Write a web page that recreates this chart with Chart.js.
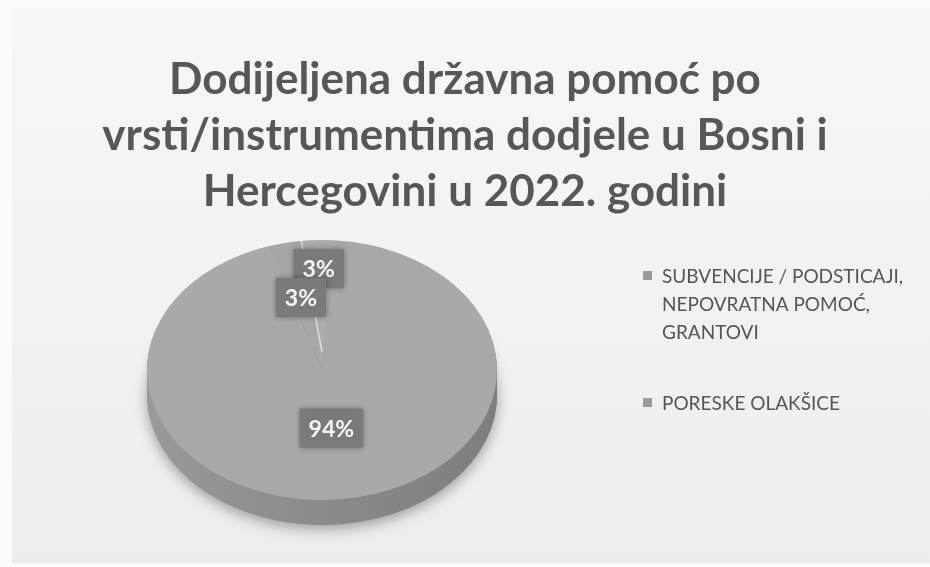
<!DOCTYPE html>
<html>
<head>
<meta charset="utf-8">
<script src="https://cdn.jsdelivr.net/npm/chart.js@4.4.0/dist/chart.umd.min.js"></script>
<style>
  html, body { margin: 0; padding: 0; background: #f3f3f3; }
  #wrap { width: 930px; height: 567px; }
</style>
</head>
<body>
<div id="wrap"><canvas id="pie" width="930" height="567"></canvas></div>
<script>
 // data
 const titleLines = ['Dodijeljena državna pomoć po', 'vrsti/instrumentima dodjele u Bosni i', 'Hercegovini u 2022. godini'];
 const categories = ['SUBVENCIJE / PODSTICAJI, NEPOVRATNA POMOĆ, GRANTOVI', 'PORESKE OLAKŠICE', ''];
 const shares = [94, 3, 3];
 const shareLabels = ['94%', '3%', '3%'];

 // look
 const topColors = ['#a9a9a9', '#a7a7a7', '#adadad'];
 const labelRadius = [0.45, 0.57, 0.78];
 const tilt = 0.743;      // vertical squash of the pie
 const depth = 25;        // thickness of the pie side
 const pieCenter = { x: 322, y: 370 };

 // fit title size to the reference width of the longest line
 const m = document.createElement('canvas').getContext('2d');
 m.font = 'bold 36px Lato';
 const titleSize = Math.round(0.97 * 36 * 746 / m.measureText(titleLines[1]).width);

 function toScreen(chart, x, y) {
   const arc = chart.getDatasetMeta(0).data[0];
   return { x: pieCenter.x + (x - arc.x), y: pieCenter.y + (y - arc.y) * tilt };
 }

 const bgPlugin = {
   id: 'bg',
   beforeDraw(chart) {
     const c = chart.ctx;
     c.save();
     c.fillStyle = '#fbfbfb';
     c.fillRect(0, 0, chart.width, chart.height);
     const g = c.createLinearGradient(0, 0, 0, chart.height);
     g.addColorStop(0, '#f7f7f7');
     g.addColorStop(1, '#ededed');
     c.fillStyle = g;
     c.fillRect(12, 8, chart.width - 12, chart.height - 12);
     c.restore();
   }
 };

 // tilt the pie and give it a side
 const tiltPlugin = {
   id: 'tilt',
   beforeDatasetsDraw(chart) {
     const c = chart.ctx;
     const arcs = chart.getDatasetMeta(0).data;
     const cx = arcs[0].x, cy = arcs[0].y;
     const R = arcs[0].outerRadius;
     c.save();
     c.translate(pieCenter.x, pieCenter.y);
     c.scale(1, tilt);
     c.translate(-cx, -cy);
     const side = c.createLinearGradient(cx - R, 0, cx + R, 0);
     side.addColorStop(0, '#999999');
     side.addColorStop(0.5, '#8a8a8a');
     side.addColorStop(1, '#7e7e7e');
     for (let d = depth; d >= 1; d--) {
       c.save();
       c.translate(0, d / tilt);
       if (d === depth) {
         c.shadowColor = 'rgba(0,0,0,0.35)';
         c.shadowBlur = 14;
         c.shadowOffsetY = 4;
       }
       arcs.forEach(a => {
         c.beginPath();
         c.moveTo(a.x, a.y);
         c.arc(a.x, a.y, a.outerRadius, a.startAngle, a.endAngle);
         c.closePath();
         c.fillStyle = side;
         c.fill();
       });
       c.restore();
     }
   },
   afterDatasetsDraw(chart) {
     const c = chart.ctx;
     c.restore();
     const arcs = chart.getDatasetMeta(0).data;
     // light seam between the two small slices
     const seam = arcs[2];
     const p0 = toScreen(chart, seam.x, seam.y);
     const p1 = toScreen(chart, seam.x + Math.cos(seam.startAngle) * seam.outerRadius, seam.y + Math.sin(seam.startAngle) * seam.outerRadius);
     c.save();
     c.strokeStyle = '#dcdcdc';
     c.lineWidth = 1.5;
     c.beginPath();
     c.moveTo(p0.x, p0.y - 18);
     c.lineTo(p1.x, p1.y);
     c.stroke();
     c.restore();

     c.save();
     c.font = 'bold 23px Lato';
     c.textAlign = 'center';
     c.textBaseline = 'middle';
     // draw outer labels first so the inner ones sit on top
     [0, 2, 1].forEach(i => {
       const a = arcs[i];
       const mid = (a.startAngle + a.endAngle) / 2;
       const r = a.outerRadius * labelRadius[i];
       const p = toScreen(chart, a.x + Math.cos(mid) * r, a.y + Math.sin(mid) * r);
       const w = c.measureText(shareLabels[i]).width + 18;
       const h = 39;
       c.shadowColor = 'rgba(0,0,0,0.35)';
       c.shadowBlur = 6;
       c.fillStyle = '#7a7a7a';
       c.fillRect(p.x - w / 2, p.y - h / 2, w, h);
       c.shadowBlur = 0;
       c.fillStyle = '#f6f6f6';
       c.fillText(shareLabels[i], p.x, p.y + 1);
     });
     c.restore();
   }
 };

 // legend on the right with wrapped text
 const legendPlugin = {
   id: 'sideLegend',
   afterDraw(chart) {
     const c = chart.ctx;
     const tops = [283, 410];
     c.save();
     c.font = '19px Lato';
     c.textBaseline = 'alphabetic';
     categories.forEach((txt, i) => {
       if (!txt) return;
       const words = txt.split(' ');
       const lines = [];
       let line = '';
       words.forEach(wd => {
         const t = line ? line + ' ' + wd : wd;
         if (c.measureText(t).width > 258 && line) { lines.push(line); line = wd; }
         else line = t;
       });
       lines.push(line);
       c.fillStyle = '#9a9a9a';
       c.fillRect(643, tops[i] - 12, 9, 9);
       c.fillStyle = '#555555';
       lines.forEach((ln, k) => c.fillText(ln, 662, tops[i] + k * 28));
     });
     c.restore();
   }
 };

 const config = {
   type: 'pie',
   data: {
     labels: categories,
     datasets: [{
       data: shares,
       backgroundColor: topColors,
       borderWidth: 0,
       radius: 175,
       clip: false
     }]
   },
   options: {
     responsive: false,
     animation: false,
     events: [],
     rotation: 4,
     layout: { padding: 0 },
     plugins: {
       legend: { display: false },
       tooltip: { enabled: false },
       title: {
         display: true,
         text: titleLines,
         color: '#575757',
         font: { family: 'Lato', weight: 'bold', size: titleSize, lineHeight: 56 / titleSize },
         padding: { top: 52, bottom: 0 }
       }
     }
   },
   plugins: [bgPlugin, tiltPlugin, legendPlugin]
 };

 const myChart = new Chart(document.getElementById('pie'), config);
</script>
</body>
</html>
